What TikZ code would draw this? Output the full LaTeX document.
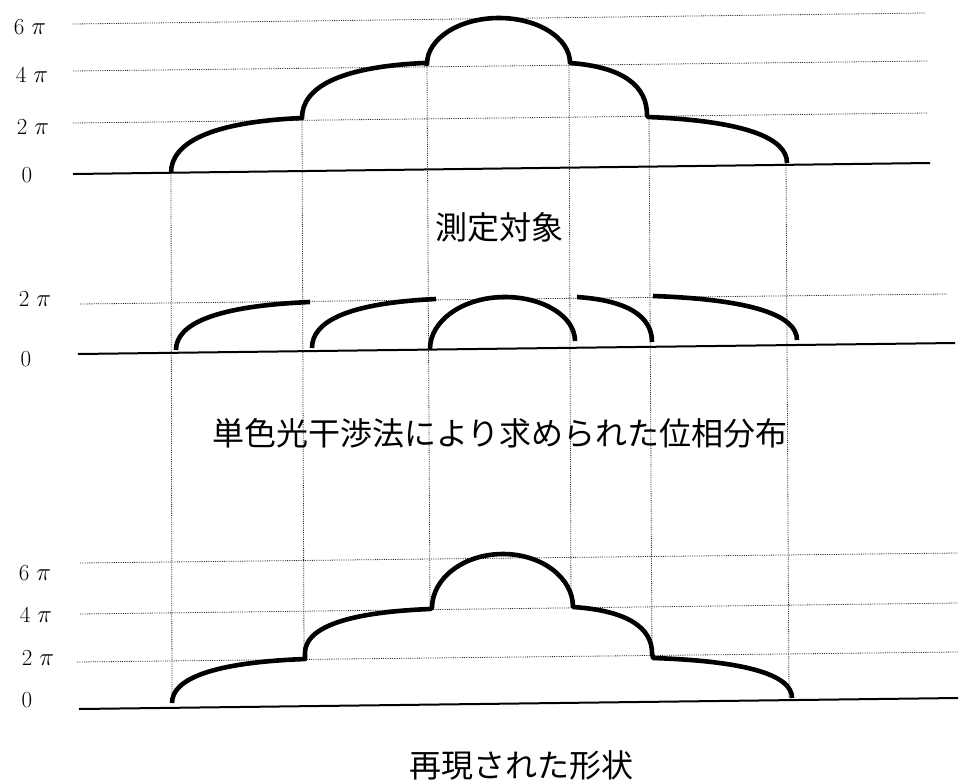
\documentclass[tikz,border=0pt]{standalone}
\usepackage{fontspec}
\newfontfamily\cjk{Noto Sans CJK JP}
\begin{document}
\begin{tikzpicture}[x=1pt,y=-1pt,
  grid/.style={densely dotted, line width=0.8pt, black!85},
  vline/.style={densely dotted, line width=0.8pt, black!85},
  axisline/.style={line width=2pt, black},
  curve/.style={line width=4.6pt, black, line join=round},
  lab/.style={inner sep=0pt, font=\fontsize{23}{26}\selectfont},
  captext/.style={inner sep=0pt, font=\cjk\fontsize{32}{36}\selectfont}]
\useasboundingbox (0,0) rectangle (959,782);
\fill[white] (0,0) rectangle (959,782);

% ---------- panel 1 ----------
\coordinate (a6l) at (73,24);  \coordinate (a6r) at (925,13);
\coordinate (a4l) at (73,71);  \coordinate (a4r) at (928,61);
\coordinate (a2l) at (73,123); \coordinate (a2r) at (927,113);
\coordinate (a0l) at (73,174); \coordinate (a0r) at (930,163);
\draw[grid] (a6l) -- (a6r);
\draw[grid] (a4l) -- (a4r);
\draw[grid] (a2l) -- (a2r);
\draw[axisline] (a0l) -- (a0r);
\node[lab] (la6) at (30,27) {6 $\pi$};
\node[lab] (la4) at (32,75) {4 $\pi$};
\node[lab] (la2) at (33,127) {2 $\pi$};
\node[lab] (la0) at (27,175) {0};

% ---------- panel 2 ----------
\coordinate (b2l) at (80,304); \coordinate (b2r) at (947,294);
\coordinate (b0l) at (78,354); \coordinate (b0r) at (955,343);
\draw[grid] (b2l) -- (b2r);
\draw[axisline] (b0l) -- (b0r);
\node[lab] (lb2) at (35,299) {2 $\pi$};
\node[lab] (lb0) at (26,359) {0};

% ---------- panel 3 ----------
\coordinate (c6l) at (80,563); \coordinate (c6r) at (958,553);
\coordinate (c4l) at (80,614); \coordinate (c4r) at (958,603);
\coordinate (c2l) at (77,662); \coordinate (c2r) at (958,652);
\coordinate (c0l) at (79,709); \coordinate (c0r) at (958,698);
\draw[grid] (c6l) -- (c6r);
\draw[grid] (c4l) -- (c4r);
\draw[grid] (c2l) -- (c2r);
\draw[axisline] (c0l) -- (c0r);
\node[lab] (lc6) at (35,573) {6 $\pi$};
\node[lab] (lc4) at (36,615) {4 $\pi$};
\node[lab] (lc2) at (38,658) {2 $\pi$};
\node[lab] (lc0) at (27,700) {0};

% ---------- vertical dotted guides ----------
\coordinate (t1) at (171,173); \coordinate (u1) at (172,703);
\coordinate (t2) at (302,118); \coordinate (u2) at (304,656);
\coordinate (t3) at (427,65);  \coordinate (u3) at (430,609);
\coordinate (t4) at (569,63);  \coordinate (u4) at (571,607);
\coordinate (t5) at (649,115); \coordinate (u5) at (652,655);
\coordinate (t6) at (786,163); \coordinate (u6) at (789,698);
\foreach \i in {1,...,6} {\draw[vline] (t\i) -- (u\i);}

% ---------- curves ----------
% panel 1: measured object
\draw[curve] (171,173) .. controls (171,143) and (210,122) .. (302,118)
  .. controls (302,88) and (338,67) .. (424,63) -- (427,64)
  .. controls (427,38.6) and (459.3,18) .. (499,18)
  .. controls (538.2,18) and (570,38.2) .. (570,63)
  .. controls (624,67) and (647,86.4) .. (647,115)
  -- (648,117) .. controls (745,121) and (787,138) .. (787,163);

% panel 2: wrapped phase
\draw[curve] (176,350) .. controls (176,323.6) and (216,306) .. (310,302);
\draw[curve] (312,348) .. controls (312,321) and (349,303) .. (436,299);
\draw[curve] (430,349) .. controls (430,320.3) and (463.6,297) .. (505,297)
  .. controls (543.6,297) and (575,316.7) .. (575,341);
\draw[curve] (577,297) .. controls (629.5,300.6) and (652,317.25) .. (652,342);
\draw[curve] (653,296) .. controls (754,299.5) and (797,316) .. (797,340);

% panel 3: reconstructed shape
\draw[curve] (172,703) .. controls (172,679) and (212,662.5) .. (305,659)
  -- (305,653) .. controls (305,629) and (342.5,612.5) .. (430,609) -- (432,608)
  .. controls (432,578.2) and (463.8,554) .. (503,554)
  .. controls (541.6,554) and (573,577.7) .. (573,607)
  .. controls (628.3,610.6) and (652,628.25) .. (652,653)
  -- (653,658) .. controls (750.3,661.2) and (792,676) .. (792,698);

% ---------- captions ----------
\node[captext] (t-obj) at (499,227) {測定対象};
\node[captext] (t-phase) at (500,433) {単色光干渉法により求められた位相分布};
\node[captext] (t-rec) at (521,765) {再現された形状};
\end{tikzpicture}
\end{document}
